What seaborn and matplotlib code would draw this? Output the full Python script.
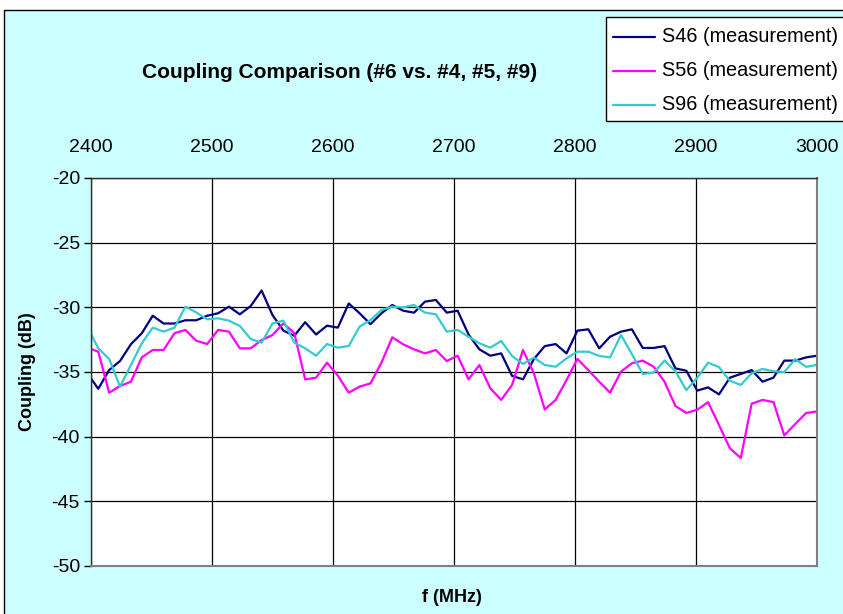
import numpy as np
import pandas as pd
import matplotlib
matplotlib.use("Agg")
import matplotlib.pyplot as plt
from matplotlib.patches import Rectangle
import seaborn as sns

# Frequency points (MHz): sweep on a 9 MHz grid, shown from 2400 to 3000
freq = [2400] + [2406 + 9 * k for k in range(67)]

s46 = [-35.5, -36.3, -34.85, -34.15, -32.85, -32.0, -30.65, -31.25, -31.25, -31.0, -31.0, -30.65,
       -30.46, -29.95, -30.54, -29.9, -28.7, -30.6, -31.8, -32.2, -31.15, -32.1, -31.42,
       -31.57, -29.7, -30.46, -31.3, -30.46, -29.82, -30.26, -30.41, -29.56, -29.43, -30.41,
       -30.26, -32.1, -33.25, -33.74, -33.56, -35.3, -35.57, -34.0, -33.0, -32.84, -33.56,
       -31.8, -31.7, -33.17, -32.27, -31.88, -31.7, -33.14, -33.14, -33.0, -34.72, -34.9,
       -36.44, -36.19, -36.73, -35.44, -35.15, -34.85, -35.75, -35.44, -34.12, -34.12, -33.87, -33.74]

s56 = [-33.22, -33.43, -36.6, -36.08, -35.75, -33.87, -33.3, -33.3, -32.0, -31.75, -32.58, -32.84,
       -31.75, -31.88, -33.17, -33.17, -32.53, -32.14, -31.24, -32.0, -35.57, -35.44, -34.28,
       -35.28, -36.6, -36.13, -35.88, -34.28, -32.32, -32.86, -33.25, -33.56, -33.3, -34.15,
       -33.74, -35.57, -34.46, -36.26, -37.16, -36.0, -33.3, -35.1, -37.9, -37.16, -35.62,
       -33.99, -34.85, -35.75, -36.6, -34.97, -34.33, -34.12, -34.59, -35.75, -37.63, -38.17,
       -37.92, -37.33, -39.1, -40.9, -41.65, -37.45, -37.16, -37.33, -39.9, -39.02, -38.17, -38.05]

s96 = [-32.06, -33.17, -33.99, -36.13, -34.46, -32.78, -31.57, -31.88, -31.57, -29.95, -30.39, -30.93,
       -30.85, -31.03, -31.44, -32.45, -32.73, -31.24, -31.03, -32.73, -33.17, -33.74, -32.84,
       -33.12, -32.99, -31.49, -30.98, -30.21, -29.95, -30.0, -29.82, -30.41, -30.54, -31.88,
       -31.75, -32.27, -32.78, -33.12, -32.6, -33.76, -34.38, -33.89, -34.46, -34.59, -33.94,
       -33.43, -33.43, -33.76, -33.87, -32.14, -33.61, -35.15, -35.05, -34.12, -34.95, -36.4,
       -35.45, -34.28, -34.62, -35.68, -36.0, -35.1, -34.76, -34.95, -35.0, -34.0, -34.6, -34.45]

series_names = ["S46 (measurement)", "S56 (measurement)", "S96 (measurement)"]
series_colors = ["#000080", "#FF00FF", "#33CCCC"]
x_ticks = [2400, 2500, 2600, 2700, 2800, 2900, 3000]
y_ticks = [-20, -25, -30, -35, -40, -45, -50]

df = pd.concat([
    pd.DataFrame({"f": freq, "coupling": vals, "series": name})
    for name, vals in zip(series_names, [s46, s56, s96])
], ignore_index=True)

sns.set_theme(style="white")
plt.rcParams["font.family"] = ["Liberation Sans", "DejaVu Sans"]
plt.rcParams["text.color"] = "black"
plt.rcParams["xtick.color"] = "black"
plt.rcParams["ytick.color"] = "black"
plt.rcParams["axes.unicode_minus"] = False

W, H = 843, 614
fig = plt.figure(figsize=(W / 100, H / 100), dpi=100, facecolor="white")

# chart area background with border
fig.patches.append(Rectangle((4 / W, -0.05), 1.1, 1 - 10 / H + 0.05, transform=fig.transFigure,
                             facecolor="#CCFFFF", edgecolor="black", linewidth=1, zorder=-5))

ax = fig.add_axes([91 / W, 1 - 566 / H, (817 - 91) / W, (566 - 178) / H])
ax.set_zorder(2)
ax.set_facecolor("white")

sns.lineplot(data=df, x="f", y="coupling", hue="series", palette=series_colors,
             linewidth=1.6, ax=ax, sort=False, estimator=None, legend=False)

ax.set_xlim(2400, 3000)
ax.set_ylim(-50, -20)
ax.set_xticks(x_ticks)
ax.set_yticks(y_ticks)
ax.set_yticklabels([str(v) for v in y_ticks])
ax.xaxis.tick_top()
ax.tick_params(axis="x", length=0, pad=16, labelsize=14, labelcolor="black")
ax.tick_params(axis="y", length=5, width=1, direction="out", pad=3, labelsize=14,
               labelcolor="black", color="black", left=True)
ax.grid(True, color="black", linewidth=0.9)
ax.set_axisbelow(True)
ax.set_xlabel("")
ax.set_ylabel("")
for side in ["top", "left"]:
    ax.spines[side].set_color("#303030")
    ax.spines[side].set_linewidth(1)
for side in ["right", "bottom"]:
    ax.spines[side].set_color("#808080")
    ax.spines[side].set_linewidth(1.5)

fig.text(340 / W, 1 - 72 / H, "Coupling Comparison (#6 vs. #4, #5, #9)",
         ha="center", va="center", fontsize=15, fontweight="bold", color="black")
fig.text(27 / W, 1 - 372 / H, "Coupling (dB)", ha="center", va="center",
         rotation=90, fontsize=13, fontweight="bold", color="black")
fig.text(452 / W, 1 - 598 / H, "f (MHz)", ha="center", va="center",
         fontsize=13, fontweight="bold", color="black")

# legend box
fig.patches.append(Rectangle((606 / W, 1 - 121 / H), 0.5, (121 - 17) / H,
                             transform=fig.transFigure, facecolor="white",
                             edgecolor="black", linewidth=1, zorder=1))
for i, (name, col) in enumerate(zip(series_names, series_colors)):
    yy = 1 - (37 + 34 * i) / H
    fig.add_artist(plt.Line2D([613 / W, 655 / W], [yy, yy], color=col, linewidth=1.6,
                              transform=fig.transFigure, zorder=2))
    fig.text(662 / W, yy, name, ha="left", va="center", fontsize=14.3, color="black", zorder=3)

fig.savefig("out.png", dpi=100, facecolor=fig.get_facecolor())
